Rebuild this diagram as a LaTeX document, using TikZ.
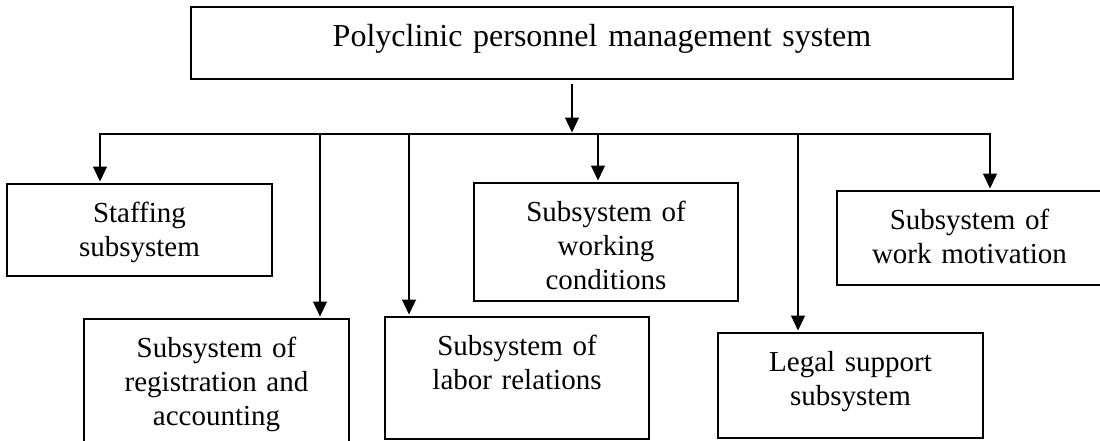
\documentclass[tikz,border=0pt]{standalone}
\usepackage{fontspec}
\setmainfont{Liberation Serif}
\usetikzlibrary{arrows.meta}

\begin{document}
\begin{tikzpicture}[x=1pt, y=-1pt,
  box/.style={draw, line width=1.5pt, inner sep=0pt, align=center, anchor=north,
    text width=265pt, text height=39pt, font=\fontsize{29}{34}\selectfont},
  arr/.style={line width=1.3pt, shorten >=1.5pt, -{Triangle[length=15pt,width=14pt]}}]

  \useasboundingbox (0,0) rectangle (1100,440);

  % Top box
  \node[box, text width=822pt, text height=40pt, text depth=32pt,
    font=\fontsize{32}{36}\selectfont] (sys) at (602,6)
    {Polyclinic personnel management system};

  % Subsystems (placed by their top edge)
  \node[box, text depth=53pt] (staffing) at (139.5,183) {Staffing\\subsystem};
  \node[box, text depth=89pt] (regacc) at (216.5,318) {Subsystem of\\registration and\\accounting};
  \node[box, text width=264pt, text depth=83pt] (labor) at (517,316) {Subsystem of\\labor relations};
  \node[box, text width=264pt, text depth=79pt] (working) at (606,182) {Subsystem of\\working\\conditions};
  \node[box, text depth=66pt] (legal) at (850.5,332) {Legal support\\subsystem};
  \node[box, text depth=55pt] (motiv) at (969.5,190) {Subsystem of\\work motivation};

  % Bus line and the arrow that feeds it
  \coordinate (hub) at (572,134);
  \draw[arr] ([yshift=-4pt]sys.south -| hub) -- (hub);

  \foreach \xx/\n in {100/staffing, 320/regacc, 409/labor, 598/working, 798/legal, 990/motiv}{
    \coordinate (tap-\n) at (\xx,134);
    \draw[arr] (tap-\n) -- (tap-\n |- \n.north);
  }
  \draw[line width=1.3pt, line cap=rect] (tap-staffing) -- (tap-motiv);
\end{tikzpicture}
\end{document}
